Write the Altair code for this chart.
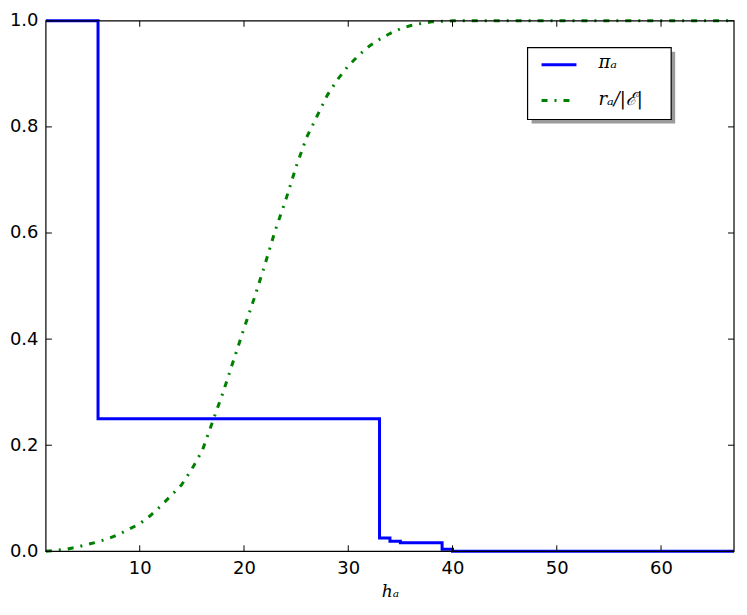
import altair as alt
import pandas as pd

# ---- data ----
pi_h = [1, 6, 33, 34, 35, 39, 40, 67]
pi_val = [1.0, 0.25, 0.025, 0.019, 0.016, 0.004, 0.0, 0.0]

r_h = [1, 2, 3, 4, 5, 6, 7, 8, 9, 10,
       11, 12, 13, 14, 15, 16, 17, 18, 19, 20,
       21, 22, 23, 24, 25, 26, 27, 28, 29, 30,
       31, 32, 33, 34, 35, 36, 37, 38, 39, 40, 67]
r_val = [0.000, 0.002, 0.004, 0.008, 0.013, 0.018, 0.024, 0.032, 0.042, 0.052,
         0.067, 0.085, 0.105, 0.125, 0.155, 0.190, 0.245, 0.300, 0.360, 0.420,
         0.478, 0.540, 0.605, 0.662, 0.725, 0.780, 0.820, 0.860, 0.890, 0.915,
         0.935, 0.952, 0.965, 0.976, 0.985, 0.991, 0.995, 0.998, 0.999, 1.000, 1.000]

x_ticks = [10, 20, 30, 40, 50, 60]
y_ticks = [0.0, 0.2, 0.4, 0.6, 0.8, 1.0]

series_labels = ["πₐ", "rₐ/|ℰ|"]
series_colors = ["#0000ff", "#008000"]

W, H = 690, 532
DASH = [6, 7, 2, 7]

xs = alt.Scale(domain=[1, 67], nice=False, zero=False)
ys = alt.Scale(domain=[0, 1], nice=False, zero=False)

pi_df = pd.DataFrame({"h": pi_h, "v": pi_val})
r_df = pd.DataFrame({"h": r_h, "v": r_val})
xt_df = pd.DataFrame({"h": x_ticks})
yt_df = pd.DataFrame({"v": y_ticks})

x_axis = alt.Axis(title="hₐ", values=x_ticks, format="d", grid=False, domain=False,
                  ticks=False, labelPadding=8, labelFont="DejaVu Sans", labelFontSize=18,
                  labelColor="black", titleFont="DejaVu Serif", titleFontStyle="italic",
                  titleFontWeight="normal", titleFontSize=17, titleColor="black",
                  titlePadding=6)
y_axis = alt.Axis(title=None, values=y_ticks, format=".1f", grid=False, domain=False,
                  ticks=False, labelPadding=8, labelFont="DejaVu Sans", labelFontSize=18,
                  labelColor="black")

pi_line = alt.Chart(pi_df).mark_line(
    color=series_colors[0], strokeWidth=3, interpolate="step-after", clip=False
).encode(
    x=alt.X("h:Q", scale=xs, axis=x_axis),
    y=alt.Y("v:Q", scale=ys, axis=y_axis),
)

r_line = alt.Chart(r_df).mark_line(
    color=series_colors[1], strokeWidth=3, strokeDash=DASH, clip=False
).encode(
    x=alt.X("h:Q", scale=xs),
    y=alt.Y("v:Q", scale=ys),
)

tick_len = 6
xt_bottom = alt.Chart(xt_df).mark_rule(color="black", strokeWidth=1).encode(
    x=alt.X("h:Q", scale=xs), y=alt.value(H), y2=alt.value(H - tick_len))
xt_top = alt.Chart(xt_df).mark_rule(color="black", strokeWidth=1).encode(
    x=alt.X("h:Q", scale=xs), y=alt.value(0), y2=alt.value(tick_len))
yt_left = alt.Chart(yt_df).mark_rule(color="black", strokeWidth=1).encode(
    y=alt.Y("v:Q", scale=ys), x=alt.value(0), x2=alt.value(tick_len))
yt_right = alt.Chart(yt_df).mark_rule(color="black", strokeWidth=1).encode(
    y=alt.Y("v:Q", scale=ys), x=alt.value(W), x2=alt.value(W - tick_len))

# frame drawn on top of the data (matplotlib spines)
frame_df = pd.DataFrame({"k": [0]})
frame = alt.Chart(frame_df).mark_rect(fill=None, stroke="black", strokeWidth=1.2, fillOpacity=0).encode(
    x=alt.value(0), x2=alt.value(W), y=alt.value(0), y2=alt.value(H))

# ---- legend (drawn manually, matplotlib style with shadow) ----
one = alt.Data(values=[{"k": 0}])
bx0, bx1, by0, by1 = 483, 627, 27, 99
shadow = alt.Chart(one).mark_rect(color="#9a9a9a").encode(
    x=alt.value(bx0 + 4), x2=alt.value(bx1 + 4), y=alt.value(by0 + 4), y2=alt.value(by1 + 4))
box = alt.Chart(one).mark_rect(fill="white", stroke="black", strokeWidth=1.2).encode(
    x=alt.value(bx0), x2=alt.value(bx1), y=alt.value(by0), y2=alt.value(by1))
leg1 = alt.Chart(one).mark_rule(color=series_colors[0], strokeWidth=3).encode(
    x=alt.value(497), x2=alt.value(532), y=alt.value(44))
leg2 = alt.Chart(one).mark_rule(color=series_colors[1], strokeWidth=3, strokeDash=DASH).encode(
    x=alt.value(497), x2=alt.value(532), y=alt.value(80))
txt1 = alt.Chart(alt.Data(values=[{"t": series_labels[0]}])).mark_text(
    align="left", baseline="middle", font="DejaVu Serif", fontStyle="italic",
    fontSize=18, color="black").encode(x=alt.value(554), y=alt.value(42), text="t:N")
txt2 = alt.Chart(alt.Data(values=[{"t": series_labels[1]}])).mark_text(
    align="left", baseline="middle", font="DejaVu Serif", fontStyle="italic",
    fontSize=18, color="black").encode(x=alt.value(554), y=alt.value(79), text="t:N")

chart = alt.layer(
    pi_line, r_line, xt_bottom, xt_top, yt_left, yt_right, frame,
    shadow, box, leg1, leg2, txt1, txt2
).properties(
    width=W, height=H,
    autosize=alt.AutoSizeParams(type="none"),
    padding={"left": 38, "top": 12, "right": 5, "bottom": 55},
    background="white",
).configure_view(
    stroke=None
)

chart.save("out.html", embed_options={"renderer": "svg", "actions": False})
